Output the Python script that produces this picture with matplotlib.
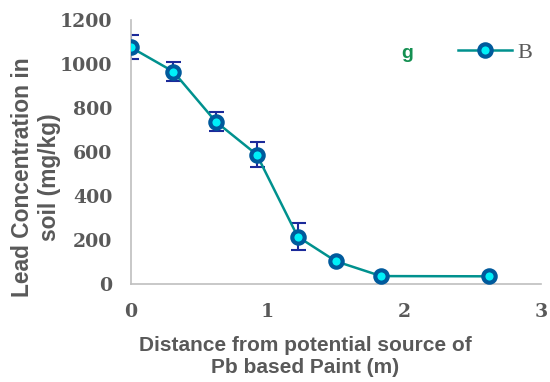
import matplotlib.pyplot as plt
from matplotlib.lines import Line2D

# lead in soil vs distance from painted surface
distance = [0.0, 0.31, 0.62, 0.92, 1.22, 1.50, 1.83, 2.62]
lead = [1075, 965, 738, 588, 215, 103, 36, 35]
lead_err = [55, 42, 45, 55, 60, 8, 5, 5]

x_ticks = [0, 1, 2, 3]
y_ticks = [0, 200, 400, 600, 800, 1000, 1200]

gray = "#595959"
line_col = "#00918E"
edge_col = "#005A9C"
face_col = "#00F0F8"
err_col = "#1B2A9A"

fig = plt.figure(figsize=(5.5, 3.82), dpi=100)
ax = fig.add_axes([0.238, 0.2565, 0.746, 0.6915])

ax.errorbar(distance, lead, yerr=lead_err, fmt="none", ecolor=err_col,
            elinewidth=1.5, capsize=5.4, capthick=1.5, zorder=2)
ax.plot(distance, lead, color=line_col, lw=1.8, zorder=3)
ax.plot(distance, lead, "o", ms=8.9, mfc=face_col, mec=edge_col, mew=3.0, zorder=4)

ax.set_xlim(0, 3)
ax.set_ylim(0, 1200)
ax.set_xticks(x_ticks)
ax.set_yticks(y_ticks)
ax.tick_params(length=0, labelcolor=gray)
ax.tick_params(axis="y", pad=13.5)
ax.tick_params(axis="x", pad=14)
for lab in ax.get_xticklabels() + ax.get_yticklabels():
    lab.set_fontfamily("DejaVu Serif")
    lab.set_fontweight("bold")
    lab.set_fontsize(13.6)

for s in ["top", "right"]:
    ax.spines[s].set_visible(False)
for s in ["left", "bottom"]:
    ax.spines[s].set_color("#BFBFBF")
    ax.spines[s].set_linewidth(1.2)

ax.set_xlabel("Distance from potential source of\nPb based Paint (m)",
              family="Liberation Sans", weight="bold", fontsize=15, color=gray,
              linespacing=1.2)
ax.xaxis.set_label_coords(305 / 550, 1 - 336 / 382, transform=fig.transFigure)
ax.set_ylabel("Lead Concentration in\nsoil (mg/kg)",
              family="Liberation Sans", weight="bold", fontsize=16.4, color=gray,
              linespacing=1.2)
ax.yaxis.set_label_coords(61 / 550, 1 - 177 / 382, transform=fig.transFigure)

fig.text(407 / 550, 1 - 53 / 382, "g", family="Liberation Sans", weight="bold",
         fontsize=14, color="#159052", ha="center", va="center")
handle = Line2D([], [], color=line_col, lw=1.8, marker="o", ms=8.9,
                mfc=face_col, mec=edge_col, mew=3.0)
ax.legend([handle], ["B"], loc="center left",
          bbox_to_anchor=(458 / 550, 1 - 53 / 382), bbox_transform=fig.transFigure,
          frameon=False, handlelength=2.43, handletextpad=0.25, borderpad=0,
          borderaxespad=0, prop={"family": "Liberation Serif", "size": 16},
          labelcolor=gray)

fig.savefig("out.png", dpi=100)
